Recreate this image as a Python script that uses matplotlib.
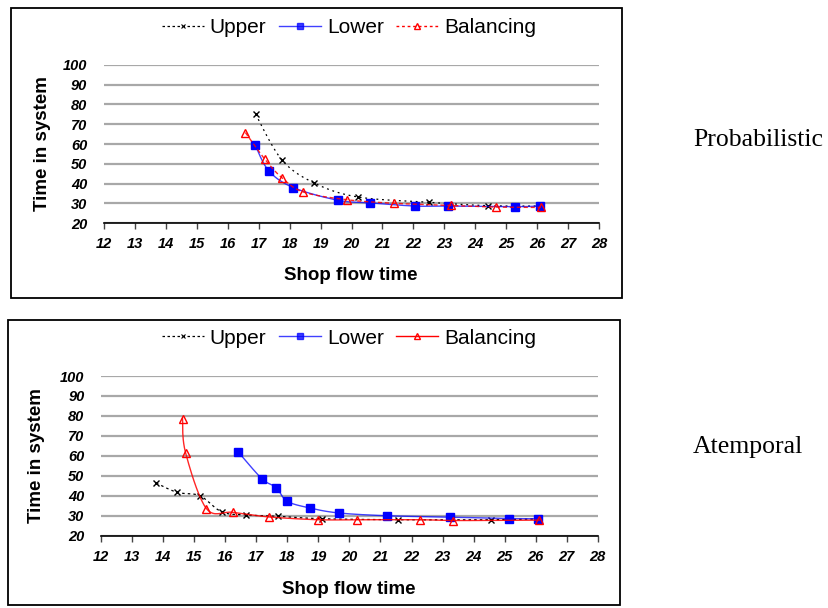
import numpy as np
import matplotlib
matplotlib.use("Agg")
import matplotlib.pyplot as plt
from matplotlib.patches import Rectangle

# ---- data ----
prob_upper_x = [16.9, 17.75, 18.8, 20.2, 22.5, 24.4, 26.1]
prob_upper_y = [75, 52, 40.3, 33.3, 30.6, 28.9, 28.7]
prob_lower_x = [16.88, 17.32, 18.12, 19.57, 20.6, 22.05, 23.12, 25.28, 26.09]
prob_lower_y = [59.7, 46.6, 38.0, 31.6, 30.3, 28.7, 28.7, 28.4, 28.7]
prob_bal_x = [16.57, 17.2, 17.75, 18.44, 19.84, 21.36, 23.23, 24.67, 26.12]
prob_bal_y = [65.8, 52.3, 43.0, 35.8, 31.9, 30.1, 29.0, 28.2, 28.0]

atem_upper_x = [13.77, 14.45, 15.18, 15.89, 16.68, 17.71, 19.12, 21.57, 24.57, 26.1]
atem_upper_y = [46.4, 41.7, 40.0, 31.9, 30.4, 29.7, 28.5, 28.0, 28.0, 28.4]
atem_lower_x = [16.42, 17.18, 17.64, 17.99, 18.72, 19.65, 21.2, 23.23, 25.13, 26.08]
atem_lower_y = [61.9, 48.5, 44.1, 37.3, 33.9, 31.4, 30.0, 29.3, 28.6, 28.5]
atem_bal_x = [14.62, 14.72, 15.39, 16.24, 17.41, 18.99, 20.24, 22.28, 23.34, 26.12]
atem_bal_y = [78.6, 61.5, 33.6, 31.7, 29.4, 28.0, 28.0, 28.0, 27.6, 27.8]

x_ticks = list(range(12, 29))
y_ticks = list(range(20, 101, 10))
series_names = ["Upper", "Lower", "Balancing"]
panel_names = ["Probabilistic", "Atemporal"]


def smooth(xs, ys, n=20):
    """Excel-like smoothed line (Catmull-Rom Bezier) through the points."""
    P = np.column_stack([xs, ys]).astype(float)
    if len(P) < 3:
        return P[:, 0], P[:, 1]
    out = []
    for i in range(len(P) - 1):
        p0 = P[i - 1] if i > 0 else P[i]
        p1, p2 = P[i], P[i + 1]
        p3 = P[i + 2] if i + 2 < len(P) else P[i + 1]
        c1 = p1 + (p2 - p0) / 6.0
        c2 = p2 - (p3 - p1) / 6.0
        t = np.linspace(0, 1, n)[:, None]
        seg = ((1 - t) ** 3) * p1 + 3 * ((1 - t) ** 2) * t * c1 + 3 * (1 - t) * t ** 2 * c2 + t ** 3 * p2
        out.append(seg if i == 0 else seg[1:])
    out = np.vstack(out)
    return out[:, 0], out[:, 1]


fig = plt.figure(figsize=(8.29, 6.08), dpi=100)

# frames around the two charts
fig.patches.append(Rectangle((11 / 829, 1 - 298 / 608), 611 / 829, 290 / 608,
                             transform=fig.transFigure, fill=False, ec="black", lw=1.3))
fig.patches.append(Rectangle((8 / 829, 1 - 605 / 608), 612 / 829, 285 / 608,
                             transform=fig.transFigure, fill=False, ec="black", lw=1.3))

ax1 = fig.add_axes([104 / 829, 1 - 223.3 / 608, 495 / 829, 158.6 / 608])
ax2 = fig.add_axes([101.2 / 829, 1 - 535.7 / 608, 496.5 / 829, 159.7 / 608])

blue = "#0000FF"
red = "#FF0000"

panels = [
    (ax1, (prob_upper_x, prob_upper_y), (prob_lower_x, prob_lower_y), (prob_bal_x, prob_bal_y),
     (0, (1.5, 3)), (0, (3, 2)), 0.954, -0.278, -0.108),
    (ax2, (atem_upper_x, atem_upper_y), (atem_lower_x, atem_lower_y), (atem_bal_x, atem_bal_y),
     (0, (2, 2.5)), "-", 0.444, -0.285, -0.113),
]

tickfont = dict(family="Liberation Sans", weight="bold", style="italic", size=10.5)

for ax, up, lo, ba, up_ls, ba_ls, leg_y, xl_y, yl_x in panels:
    sx, sy = smooth(*up)
    ax.plot(sx, sy, color="black", lw=0.9, ls=up_ls)
    ax.plot(up[0], up[1], ls="none", marker="x", ms=4, mew=1, color="black")
    sx, sy = smooth(*lo)
    ax.plot(sx, sy, color=blue, lw=1.0, alpha=0.75)
    ax.plot(lo[0], lo[1], ls="none", marker="s", ms=5.5, color=blue)
    sx, sy = smooth(*ba)
    ax.plot(sx, sy, color=red, lw=1.0, ls=ba_ls, alpha=0.85)
    ax.plot(ba[0], ba[1], ls="none", marker="^", ms=6, mfc="none", mec=red, mew=1)

    ax.set_xlim(12, 28)
    ax.set_ylim(20, 100)
    ax.set_xticks(x_ticks)
    ax.set_yticks(y_ticks)
    ax.set_xticklabels([str(v) for v in x_ticks], fontdict=tickfont)
    ax.set_yticklabels([str(v) for v in y_ticks], fontdict=tickfont)
    ax.tick_params(axis="y", length=0, pad=12)
    ax.tick_params(axis="x", length=4, width=1, direction="out", pad=6, color="#444444")
    for s in ["top", "right", "left"]:
        ax.spines[s].set_visible(False)
    ax.spines["bottom"].set_linewidth(1.2)
    ax.yaxis.grid(True, color="#A8A8A8", lw=1.6)
    ax.set_axisbelow(True)

    ax.set_xlabel("Shop flow time", fontsize=13.5, fontweight="bold", family="Liberation Sans")
    ax.xaxis.set_label_coords(0.498, xl_y)
    ax.set_ylabel("Time in system", fontsize=13.5, fontweight="bold", family="Liberation Sans")
    ax.yaxis.set_label_coords(yl_x, 0.5)

    handles = [
        plt.Line2D([], [], color="black", lw=0.9, ls=(0, (2, 2)), marker="x", ms=3, mew=0.8),
        plt.Line2D([], [], color=blue, lw=1.0, alpha=0.75, marker="s", ms=4),
        plt.Line2D([], [], color=red, lw=1.0, ls=(0, (2, 2)) if ba_ls != "-" else "-",
                   marker="^", ms=4.5, mfc="none", mec=red),
    ]
    fig.legend(handles, series_names, loc="center", bbox_to_anchor=(0.421, leg_y), ncol=3,
               frameon=False, prop=dict(family="Liberation Sans", size=15),
               handlelength=2.0, handletextpad=0.3, columnspacing=0.6, borderpad=0)

fig.text(693 / 829, 1 - 146 / 608, panel_names[0], family="Liberation Serif", fontsize=18.5,
         ha="left", va="baseline")
fig.text(693 / 829, 1 - 453 / 608, panel_names[1], family="Liberation Serif", fontsize=18.5,
         ha="left", va="baseline")

fig.savefig("out.png", dpi=100)
